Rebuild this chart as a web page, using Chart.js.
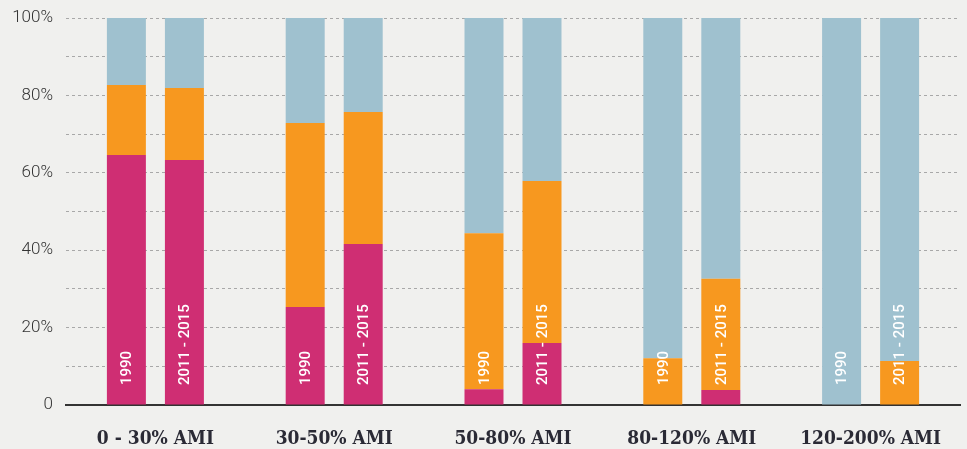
<!DOCTYPE html>
<html>
<head>
<meta charset="utf-8">
<script src="https://cdn.jsdelivr.net/npm/chart.js@4/dist/chart.umd.min.js"></script>
<style>
  html, body { margin: 0; padding: 0; background: #f0f0ee; }
  canvas { display: block; }
</style>
</head>
<body>
<canvas id="grafica" width="967" height="449"></canvas>
<script>
// categorias y valores (porcentaje de hogares)
const categorias = ['0 - 30% AMI', '30-50% AMI', '50-80% AMI', '80-120% AMI', '120-200% AMI'];
const periodos = ['1990', '2011 - 2015'];

const magenta1990 = [64.6, 25.3, 4.1, 0, 0];
const naranja1990 = [18.1, 47.6, 40.3, 12.1, 0];
const azul1990    = [17.3, 27.1, 55.6, 87.9, 100];

const magenta2015 = [63.3, 41.6, 16.0, 3.9, 0];
const naranja2015 = [18.6, 34.1, 41.9, 28.7, 11.4];
const azul2015    = [18.1, 24.3, 42.1, 67.4, 88.6];

const ticksY = [0, 20, 40, 60, 80, 100];

const MAGENTA = '#cf2e73';
const NARANJA = '#f7981f';
const AZUL = '#9fc1cf';

function serie(datos, color, stack) {
  return {
    data: datos,
    backgroundColor: color,
    borderWidth: 0,
    stack: stack,
    barPercentage: 0.672,
    categoryPercentage: 0.649
  };
}

// etiquetas verticales dentro de cada barra
const etiquetasBarras = {
  id: 'etiquetasBarras',
  afterDatasetsDraw(chart) {
    const ctx = chart.ctx;
    const yScale = chart.scales.y;
    const base = yScale.getPixelForValue(0);
    [0, 3].forEach((dsIndex, p) => {
      const meta = chart.getDatasetMeta(dsIndex);
      meta.data.forEach(bar => {
        ctx.save();
        ctx.translate(bar.x, base - 20);
        ctx.rotate(-Math.PI / 2);
        ctx.fillStyle = '#ffffff';
        ctx.font = '500 15px Roboto';
        ctx.textAlign = 'left';
        ctx.textBaseline = 'middle';
        ctx.fillText(periodos[p], 0, 1);
        ctx.restore();
      });
    });
  }
};

const ctx = document.getElementById('grafica').getContext('2d');
new Chart(ctx, {
  type: 'bar',
  data: {
    labels: categorias,
    datasets: [
      serie(magenta1990, MAGENTA, 'a'),
      serie(naranja1990, NARANJA, 'a'),
      serie(azul1990, AZUL, 'a'),
      serie(magenta2015, MAGENTA, 'b'),
      serie(naranja2015, NARANJA, 'b'),
      serie(azul2015, AZUL, 'b')
    ]
  },
  options: {
    responsive: false,
    animation: false,
    layout: { padding: { top: 18, right: 7, left: 0, bottom: 0 } },
    plugins: { legend: { display: false }, tooltip: { enabled: false } },
    scales: {
      x: {
        stacked: true,
        grid: { display: false },
        border: { display: true, color: '#333333', width: 2 },
        ticks: {
          color: '#2a2a35',
          padding: 15,
          font: { family: '"DejaVu Serif Condensed", "DejaVu Serif"', weight: 'bold', size: 19 }
        },
        afterFit: axis => { axis.height = 44; axis.paddingLeft = 0; axis.paddingRight = 0; }
      },
      y: {
        stacked: true,
        min: 0,
        max: 100,
        grid: { color: '#a8a8a8', lineWidth: 1, drawTicks: false },
        border: { display: false, dash: [3, 3] },
        ticks: {
          stepSize: 10,
          padding: 13,
          color: '#333333',
          font: { family: 'Roboto', weight: '300', size: 17 },
          callback: v => ticksY.includes(v) ? (v === 0 ? '0' : v + '%') : ''
        },
        afterFit: axis => { axis.width = 66; axis.paddingTop = 0; axis.paddingBottom = 0; }
      }
    }
  },
  plugins: [etiquetasBarras]
});
</script>
</body>
</html>
